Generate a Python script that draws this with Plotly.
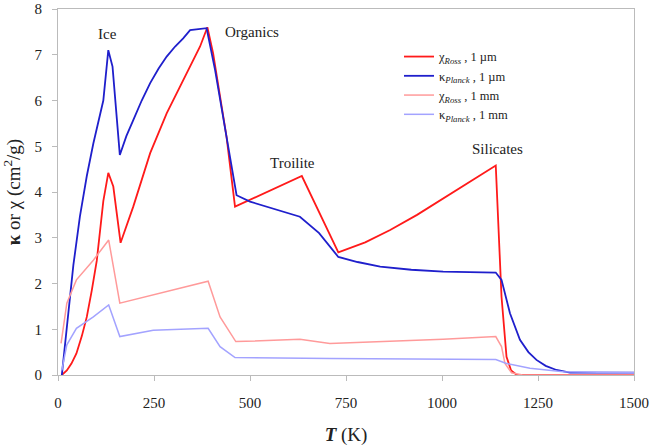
import plotly.graph_objects as go

# chi_Ross, 1 micron
T_ross_um = [10, 23, 35, 48, 62, 75, 88, 101, 118, 131, 144, 163, 196, 240, 283, 326, 370, 389, 404, 439, 461, 635, 730, 800, 865, 935, 1003, 1070, 1140, 1155, 1168, 1180, 1195, 1250, 1500]
v_ross_um = [0.0, 0.1, 0.25, 0.47, 0.85, 1.27, 1.85, 2.5, 3.8, 4.42, 4.12, 2.89, 3.68, 4.85, 5.72, 6.45, 7.18, 7.6, 7.03, 5.2, 3.68, 4.35, 2.68, 2.9, 3.17, 3.5, 3.86, 4.2, 4.58, 1.71, 0.4, 0.1, 0.0, 0.0, 0.0]

# kappa_Planck, 1 micron
T_planck_um = [10, 23, 40, 57, 75, 92, 118, 131, 142, 161, 178, 196, 218, 240, 262, 283, 305, 326, 344, 387, 409, 439, 465, 500, 630, 680, 730, 780, 839, 920, 1003, 1140, 1155, 1177, 1203, 1225, 1246, 1270, 1298, 1333, 1500]
v_planck_um = [0.0, 1.1, 2.4, 3.46, 4.35, 5.06, 6.0, 7.1, 6.74, 4.81, 5.22, 5.57, 6.0, 6.38, 6.7, 6.96, 7.18, 7.36, 7.54, 7.58, 6.67, 5.2, 3.93, 3.79, 3.46, 3.1, 2.58, 2.47, 2.37, 2.3, 2.26, 2.24, 2.08, 1.35, 0.77, 0.5, 0.33, 0.2, 0.11, 0.05, 0.05]

# chi_Ross, 1 mm
T_ross_mm = [8, 23, 48, 92, 132, 161, 391, 422, 463, 630, 708, 1003, 1140, 1155, 1164, 1181, 1210, 1500]
v_ross_mm = [0.69, 1.57, 2.08, 2.51, 2.95, 1.57, 2.05, 1.27, 0.73, 0.78, 0.69, 0.78, 0.84, 0.62, 0.25, 0.05, 0.0, 0.0]

# kappa_Planck, 1 mm
T_planck_mm = [10, 23, 48, 92, 132, 161, 248, 391, 422, 461, 708, 1140, 1168, 1229, 1316, 1500]
v_planck_mm = [0.1, 0.66, 1.02, 1.27, 1.53, 0.84, 0.98, 1.02, 0.62, 0.38, 0.36, 0.34, 0.25, 0.15, 0.07, 0.05]

x_ticks = [0, 250, 500, 750, 1000, 1250, 1500]
y_ticks = [0, 1, 2, 3, 4, 5, 6, 7, 8]

labels = ["Ice", "Organics", "Troilite", "Silicates"]
label_x = [130, 505, 610, 1145]
label_y = [7.45, 7.5, 4.63, 4.93]

FONT = "Liberation Serif, Times New Roman, serif"

fig = go.Figure()
fig.add_trace(go.Scatter(x=T_ross_um, y=v_ross_um, mode="lines",
                         line=dict(color="#ff1a1a", width=1.8),
                         name="χ<sub><i>Ross</i></sub> , 1 µm"))
fig.add_trace(go.Scatter(x=T_planck_um, y=v_planck_um, mode="lines",
                         line=dict(color="#1f1fcc", width=1.8),
                         name="κ<sub><i>Planck</i></sub> , 1 µm"))
fig.add_trace(go.Scatter(x=T_ross_mm, y=v_ross_mm, mode="lines",
                         line=dict(color="#ff9a9a", width=1.5),
                         name="χ<sub><i>Ross</i></sub> , 1 mm"))
fig.add_trace(go.Scatter(x=T_planck_mm, y=v_planck_mm, mode="lines",
                         line=dict(color="#a3a3ff", width=1.5),
                         name="κ<sub><i>Planck</i></sub> , 1 mm"))

for t, lx, ly in zip(labels, label_x, label_y):
    fig.add_annotation(x=lx, y=ly, text=t, showarrow=False,
                       xanchor="center", yanchor="middle",
                       font=dict(family=FONT, size=15, color="#222"))

fig.update_layout(
    width=654, height=446,
    margin=dict(l=58, r=20, t=9, b=71, autoexpand=False),
    paper_bgcolor="white", plot_bgcolor="white",
    font=dict(family=FONT, size=13, color="#222"),
    showlegend=True,
    legend=dict(x=0.592, y=0.91, xanchor="left", yanchor="top",
                bgcolor="rgba(0,0,0,0)", font=dict(family=FONT, size=12.5, color="#222"),
                tracegroupgap=0, itemwidth=30),
    xaxis=dict(range=[0, 1500], tickvals=x_ticks, ticks="outside", ticklen=5,
               tickcolor="#bbb", showgrid=False, zeroline=False, automargin=False,
               showline=True, linecolor="#bbb", mirror=True, linewidth=1,
               ticklabelstandoff=9,
               tickfont=dict(family=FONT, size=15, color="#222"),
               title=dict(text="<b><i>T</i></b> (K)", standoff=18,
                          font=dict(family=FONT, size=19, color="#222"))),
    yaxis=dict(range=[0, 8], tickvals=y_ticks, ticks="outside", ticklen=5,
               tickcolor="#bbb", showgrid=False, zeroline=False, automargin=False,
               showline=True, linecolor="#bbb", mirror=True, linewidth=1,
               ticklabelstandoff=7,
               tickfont=dict(family=FONT, size=15, color="#222"),
               title=dict(text="<b>κ</b> or χ (cm<sup>2</sup>/g)", standoff=14,
                          font=dict(family=FONT, size=19, color="#222"))),
)

fig.write_html("out.html", config={"displayModeBar": False},
               post_script="document.body.style.margin='0';")
